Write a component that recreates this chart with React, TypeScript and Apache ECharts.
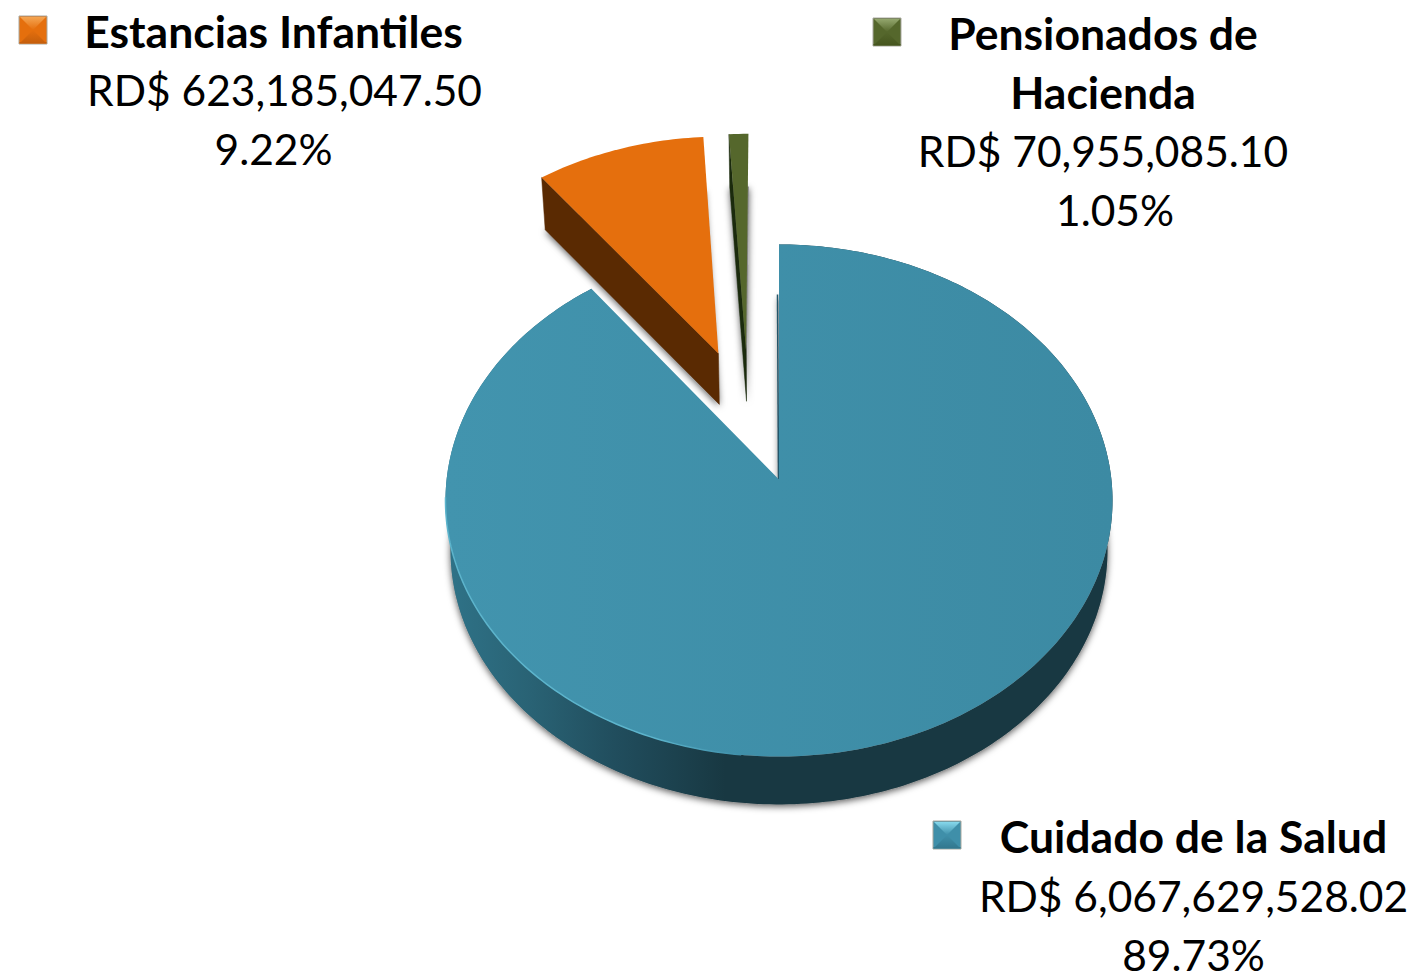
import React, { useEffect, useRef } from "react";
import * as echarts from "echarts";

// ---- data
const categories = ["Cuidado de la Salud", "Estancias Infantiles", "Pensionados de Hacienda"];
const values = [6067629528.02, 623185047.5, 70955085.1];
const amounts = ["RD$ 6,067,629,528.02", "RD$ 623,185,047.50", "RD$ 70,955,085.10"];
const percents = ["89.73%", "9.22%", "1.05%"];
const titleLines = [["Cuidado de la Salud"], ["Estancias Infantiles"], ["Pensionados de", "Hacienda"]];

// ---- styles (face, cut wall, marker top, marker base, marker bottom)
const faceColors = ["#3f8fa9", "#e56f0d", "#55672c"];
const wallColors = ["#183842", "#5a2a02", "#1b2b0d"];
const markerTop = ["#86d8ec", "#f5a552", "#93a66d"];
const markerBase = ["#3f8fa9", "#e56f0d", "#55672c"];
const markerBottom = ["#33788f", "#c65f0c", "#46561f"];

// ---- layout
const W = 1418;
const H = 975;
const APEX_X = 779;
const APEX_Y = 479.5;
const RX = 332.4;
const RY = 254.3;
const PERSP = 0.082;
const BASE_SX = 0.985;
const BASE_SY = 0.9925;
const BASE_DY = 50;
const offsets = [
  [0, 0],
  [-0.19, 0.5165],
  [-0.1035, 0.53],
];
const markerBoxes = [
  [933, 821],
  [19, 16],
  [873, 18],
];
const titleCx = [1193.5, 273.5, 1103];
const amountCx = [1193.5, 284.5, 1103];
const percentCx = [1193.5, 273.5, 1115];
const titleYs = [[835.5], [30.5], [32.5, 91.5]];
const amountYs = [895, 89, 150];
const percentYs = [954, 148, 209];
const FONT = "Lato";
const FONT_SIZE = 42.5;
const BOLD_SIZE = 44.5;

const total = values.reduce((a, b) => a + b, 0);
const DEG = Math.PI / 180;

function top(u: number, v: number) {
  const w = 1 + PERSP * v;
  return [(RX * u) / w, (RY * v) / w];
}
function toScreen(p: number[], base: boolean) {
  if (base) return [APEX_X + p[0] * BASE_SX, APEX_Y - p[1] * BASE_SY + BASE_DY];
  return [APEX_X + p[0], APEX_Y - p[1]];
}
function rimPoints(a0: number, a1: number, off: number[], base: boolean) {
  const pts: number[][] = [];
  const n = Math.max(2, Math.ceil((a1 - a0) / (1 * DEG)));
  for (let i = 0; i <= n; i++) {
    const a = a0 + ((a1 - a0) * i) / n;
    pts.push(toScreen(top(Math.sin(a) + off[0], Math.cos(a) + off[1]), base));
  }
  return pts;
}

function renderSlice(params: any, api: any) {
  const idx = params.dataIndex;
  const value = api.value(0);
  let before = 0;
  for (let i = 0; i < idx; i++) before += values[i];
  const a0 = (before / total) * 2 * Math.PI;
  const a1 = ((before + value) / total) * 2 * Math.PI;
  const off = offsets[idx];
  const apexTop = toScreen(top(off[0], off[1]), false);
  const apexBase = toScreen(top(off[0], off[1]), true);
  const rimTop = rimPoints(a0, a1, off, false);
  const rimBase = rimPoints(a0, a1, off, true);
  const children: any[] = [];

  // soft shadow of the slice's foot
  children.push({
    type: "polygon",
    shape: { points: [apexBase, ...rimBase] },
    style: {
      fill: "#8a8a8a",
      shadowBlur: 7,
      shadowColor: "rgba(0,0,0,0.65)",
      shadowOffsetX: 0,
      shadowOffsetY: 2,
    },
  });

  if (idx === 0) {
    // outer round wall
    children.push({
      type: "polygon",
      shape: { points: [...rimTop, ...rimBase.slice().reverse()] },
      style: {
        fill: new echarts.graphic.LinearGradient(0, 0, 1, 0, [
          { offset: 0, color: "#2f7388" },
          { offset: 0.13, color: "#296274" },
          { offset: 0.25, color: "#214e5e" },
          { offset: 0.42, color: "#183842" },
          { offset: 1, color: "#183842" },
        ]),
      },
    });
    // thin dark edge of the cut beside the gap
    const r = rimTop[0];
    children.push({
      type: "line",
      shape: { x1: r[0] - 1.5, y1: r[1] + BASE_DY, x2: apexTop[0] - 0.5, y2: apexTop[1] },
      style: { stroke: "#24566a", lineWidth: 1.5 },
    });
  } else {
    // cut wall facing the viewer
    children.push({
      type: "polygon",
      shape: { points: [rimTop[0], apexTop, apexBase, rimBase[0]] },
      style: { fill: wallColors[idx], stroke: wallColors[idx], lineWidth: 0.5 },
    });
  }

  // top face
  children.push({
    type: "polygon",
    shape: { points: [apexTop, ...rimTop] },
    style: {
      fill:
        idx === 0
          ? new echarts.graphic.LinearGradient(0, 0.5, 1, 0.5, [
              { offset: 0, color: "#4294ae" },
              { offset: 1, color: "#3c8aa3" },
            ])
          : faceColors[idx],
    },
  });

  if (idx === 0) {
    // light bevel on the lower-left rim, fading towards the bottom of the disc
    children.push({
      type: "polyline",
      shape: { points: rimPoints(186 * DEG, 266 * DEG, off, false) },
      style: {
        fill: "none",
        lineWidth: 1.5,
        stroke: new echarts.graphic.LinearGradient(0, 0, 1, 0, [
          { offset: 0, color: "#5cb4cc" },
          { offset: 0.7, color: "#5cb4cc" },
          { offset: 1, color: "#3f8fa9" },
        ]),
      },
    });
  }
  return { type: "group", children };
}

function markerGraphic(i: number) {
  const [x, y] = markerBoxes[i];
  const s = 28;
  const b = 3;
  const cx = x + s / 2;
  const cy = y + s / 2;
  return {
    type: "group",
    silent: true,
    children: [
      {
        type: "rect",
        shape: { x, y, width: s, height: s },
        style: { fill: markerBase[i], stroke: "#a9a9a0", lineWidth: 1 },
      },
      {
        type: "polygon",
        shape: { points: [[x + 1, y + 1], [x + s - 1, y + 1], [cx, cy]] },
        style: {
          fill: new echarts.graphic.LinearGradient(0, 0, 0, 1, [
            { offset: 0, color: markerTop[i] },
            { offset: 1, color: markerBase[i] },
          ]),
        },
      },
      {
        type: "polygon",
        shape: { points: [[x + 1, y + s - 1], [x + s - 1, y + s - 1], [cx, cy]] },
        style: {
          fill: new echarts.graphic.LinearGradient(0, 1, 0, 0, [
            { offset: 0, color: markerBottom[i] },
            { offset: 1, color: markerBase[i] },
          ]),
        },
      },
      {
        type: "rect",
        shape: { x: x + 0.5, y: y + s - b + 1, width: s - 1, height: b - 1.5 },
        style: { fill: markerBottom[i] },
      },
    ],
  };
}

function textGraphic(text: string, x: number, y: number, bold: boolean) {
  return {
    type: "text",
    silent: true,
    x,
    y,
    style: {
      text,
      fill: "#000000",
      font: `${bold ? "bold" : "normal"} ${bold ? BOLD_SIZE : FONT_SIZE}px ${FONT}`,
      textAlign: "center",
      textVerticalAlign: "middle",
    },
  };
}

export default function App() {
  const ref = useRef<HTMLDivElement>(null);
  useEffect(() => {
    document.body.style.margin = "0";
    const chart = echarts.init(ref.current!, undefined, { renderer: "svg" });
    const graphics: any[] = [];
    categories.forEach((_, i) => {
      graphics.push(markerGraphic(i));
      titleLines[i].forEach((line, j) => graphics.push(textGraphic(line, titleCx[i], titleYs[i][j], true)));
      graphics.push(textGraphic(amounts[i], amountCx[i], amountYs[i], false));
      graphics.push(textGraphic(percents[i], percentCx[i], percentYs[i], false));
    });
    chart.setOption({
      animation: false,
      backgroundColor: "#ffffff",
      tooltip: { show: false },
      graphic: graphics,
      series: [
        {
          type: "custom",
          coordinateSystem: "none",
          silent: true,
          renderItem: renderSlice,
          data: values.map((v, i) => ({ name: categories[i], value: [v] })),
        },
      ],
    });
    return () => chart.dispose();
  }, []);
  return (
    <div style={{ position: "absolute", left: 0, top: 0, width: W, height: H, overflow: "hidden" }}>
      <div ref={ref} style={{ width: W, height: H }} />
    </div>
  );
}
